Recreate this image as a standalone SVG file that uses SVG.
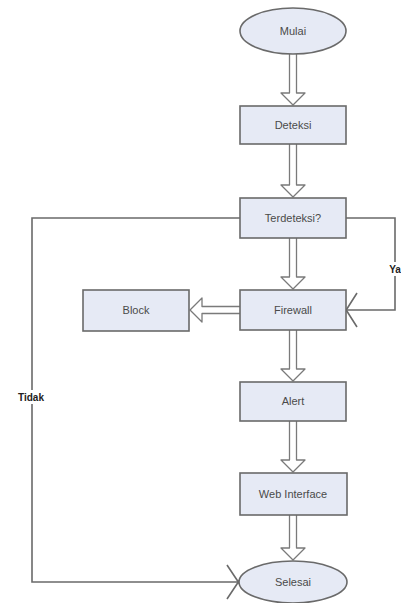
<svg xmlns="http://www.w3.org/2000/svg" width="401" height="603" viewBox="0 0 401 603">
<style>
.node{fill:#e6eaf5;stroke:#6a6a6a;stroke-width:1.6}
.lbl{font-family:"Liberation Sans",Arial,sans-serif;font-size:11px;fill:#4a4a4a;text-anchor:middle}
.edge{fill:none;stroke:#6a6a6a;stroke-width:1.6}
.harrow{fill:#fff;stroke:#7a7a7a;stroke-width:1.3;stroke-linejoin:round}
.elbl{font-family:"Liberation Sans",Arial,sans-serif;font-size:10px;font-weight:bold;fill:#222;text-anchor:middle}
</style>
<rect width="401" height="603" fill="#fff"/>
<g id="connectors">
<path class="harrow" d="M289.5,54 V93 H281 L293,105 L305,93 H296.5 V54"/>
<path class="harrow" d="M289.5,144 V185 H281 L293,197 L305,185 H296.5 V144"/>
<path class="harrow" d="M289.5,238 V277 H281 L293,289 L305,277 H296.5 V238"/>
<path class="harrow" d="M289.5,330 V369 H281 L293,381 L305,369 H296.5 V330"/>
<path class="harrow" d="M289.5,421 V460 H281 L293,472 L305,460 H296.5 V421"/>
<path class="harrow" d="M289.5,515 V548 H281 L293,560 L305,548 H296.5 V515"/>
<path class="harrow" d="M240,306.5 H202 V298 L190,310 L202,322 V313.5 H240"/>
<path class="edge" d="M346,218 H395 V310 H346"/>
<path class="edge" d="M357,293 L343,315 M357,327 L343,305"/>
<path class="edge" d="M240,218 H32 V582 H239"/>
<path class="edge" d="M227,565 L243,589 M227,599 L243,575"/>
<rect x="385" y="262" width="20" height="14" fill="#fff"/>
<text class="elbl" x="395" y="273">Ya</text>
<rect x="12" y="390" width="40" height="14" fill="#fff"/>
<text class="elbl" x="31" y="401">Tidak</text>
</g>
<g id="mulai"><ellipse class="node" cx="293" cy="31" rx="53" ry="23"/><text class="lbl" x="293" y="35">Mulai</text></g>
<g id="deteksi"><rect class="node" x="240" y="106" width="106" height="38"/><text class="lbl" x="293" y="129">Deteksi</text></g>
<g id="terdeteksi"><rect class="node" x="240" y="198" width="106" height="40"/><text class="lbl" x="293" y="222">Terdeteksi?</text></g>
<g id="firewall"><rect class="node" x="240" y="290" width="106" height="40"/><text class="lbl" x="293" y="314">Firewall</text></g>
<g id="block"><rect class="node" x="83" y="290" width="106" height="41"/><text class="lbl" x="136" y="314">Block</text></g>
<g id="alert"><rect class="node" x="240" y="382" width="106" height="39"/><text class="lbl" x="293" y="405">Alert</text></g>
<g id="web"><rect class="node" x="240" y="473" width="107" height="42"/><text class="lbl" x="293" y="498">Web Interface</text></g>
<g id="selesai"><ellipse class="node" cx="293" cy="582" rx="54" ry="21"/><text class="lbl" x="293" y="586">Selesai</text></g>
</svg>
